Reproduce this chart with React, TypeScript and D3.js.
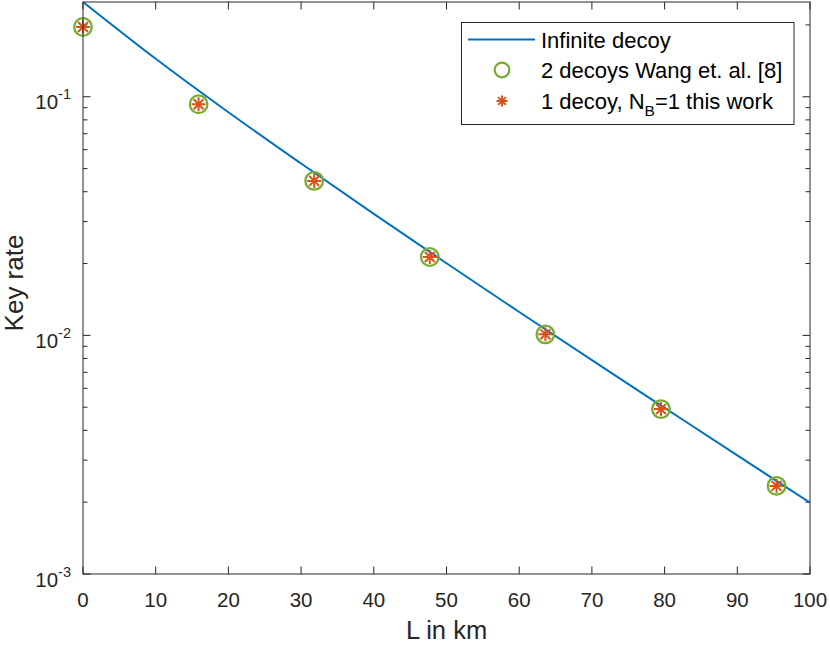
import * as d3 from 'd3';
import React, { useRef, useEffect } from 'react';

// infinite decoy curve, sampled every 10 km
const lineL = [0, 10, 20, 30, 40, 50, 60, 70, 80, 90, 100];
const lineRate = [0.2495, 0.1442, 0.0861, 0.0525, 0.0323, 0.02005, 0.01253, 0.00787, 0.00497, 0.00314, 0.00199];

// discrete points
const pointL = [0, 15.9, 31.8, 47.7, 63.6, 79.5, 95.4];
const twoDecoyRate = [0.196, 0.093, 0.0444, 0.0213, 0.0101, 0.00491, 0.00234];
const oneDecoyRate = [0.196, 0.093, 0.0444, 0.0213, 0.0101, 0.00491, 0.00234];

const xTicks = [0, 10, 20, 30, 40, 50, 60, 70, 80, 90, 100];
const yMajor = [1e-3, 1e-2, 1e-1];
const yMajorExp = ['-3', '-2', '-1'];

const legendLabels = ['Infinite decoy', '2 decoys Wang et. al. [8]', '1 decoy, N'];

const FONT = '"Liberation Sans", Arial, Helvetica, sans-serif';
const BLUE = '#0072BD';
const GREEN = '#77AC30';
const ORANGE = '#D95319';
const AXIS = '#262626';

const Chart = ({ width, height }: { width: number; height: number }) => {
  const svgRef = useRef<SVGSVGElement>(null);

  useEffect(() => {
    if (!svgRef.current) return;
    const svg = d3.select(svgRef.current);
    svg.selectAll('*').remove();

    const left = 83, right = 810, top = 2, bottom = 574;

    const x = d3.scaleLinear().domain([0, 100]).range([left, right]);
    const y = d3.scaleLog().domain([1e-3, 0.2495]).range([bottom, top]);

    svg.append('rect').attr('width', width).attr('height', height).attr('fill', '#fff');

    svg.append('defs').append('clipPath').attr('id', 'plotclip')
      .append('rect').attr('x', left).attr('y', top)
      .attr('width', right - left).attr('height', bottom - top);

    // ticks (inside, box on)
    const minor: number[] = [];
    [1e-3, 1e-2, 1e-1].forEach((d) => {
      for (let k = 2; k <= 9; k++) {
        const v = d * k;
        if (v <= 0.2495) minor.push(v);
      }
    });
    const tg = svg.append('g').attr('stroke', AXIS).attr('stroke-width', 1);
    xTicks.forEach((t) => {
      tg.append('line').attr('x1', x(t)).attr('x2', x(t)).attr('y1', bottom).attr('y2', bottom - 7.5);
      tg.append('line').attr('x1', x(t)).attr('x2', x(t)).attr('y1', top).attr('y2', top + 7.5);
    });
    yMajor.forEach((t) => {
      tg.append('line').attr('x1', left).attr('x2', left + 7.5).attr('y1', y(t)).attr('y2', y(t));
      tg.append('line').attr('x1', right).attr('x2', right - 7.5).attr('y1', y(t)).attr('y2', y(t));
    });
    minor.forEach((t) => {
      tg.append('line').attr('x1', left).attr('x2', left + 4.5).attr('y1', y(t)).attr('y2', y(t));
      tg.append('line').attr('x1', right).attr('x2', right - 4.5).attr('y1', y(t)).attr('y2', y(t));
    });

    // data
    const plot = svg.append('g').attr('clip-path', 'url(#plotclip)');
    const line = d3.line<number>().x((d, i) => x(lineL[i])).y((d) => y(d)).curve(d3.curveMonotoneX);
    plot.append('path').datum(lineRate).attr('d', line)
      .attr('fill', 'none').attr('stroke', BLUE).attr('stroke-width', 2);

    svg.append('g').selectAll('circle').data(twoDecoyRate).enter().append('circle')
      .attr('cx', (d, i) => x(pointL[i])).attr('cy', (d) => y(d)).attr('r', 8.8)
      .attr('fill', 'none').attr('stroke', GREEN).attr('stroke-width', 2.3);

    const star = (g: any, cx: number, cy: number, s: number, w: number) => {
      const d = s * 0.7071;
      const p = `M${cx - s},${cy}L${cx + s},${cy}M${cx},${cy - s}L${cx},${cy + s}` +
        `M${cx - d},${cy - d}L${cx + d},${cy + d}M${cx - d},${cy + d}L${cx + d},${cy - d}`;
      g.append('path').attr('d', p).attr('stroke', ORANGE).attr('stroke-width', w).attr('fill', 'none');
    };
    const sg = svg.append('g');
    oneDecoyRate.forEach((v, i) => star(sg, x(pointL[i]), y(v), 7, 2));

    // axes box
    svg.append('rect').attr('x', left).attr('y', top).attr('width', right - left).attr('height', bottom - top)
      .attr('fill', 'none').attr('stroke', AXIS).attr('stroke-width', 1);

    // tick labels
    svg.append('g').selectAll('text').data(xTicks).enter().append('text')
      .attr('x', (d) => x(d)).attr('y', 607).attr('text-anchor', 'middle')
      .attr('font-family', FONT).attr('font-size', 20.5).attr('fill', AXIS)
      .text((d) => String(d));

    yMajor.forEach((t, i) => {
      const tx = svg.append('text').attr('x', 71).attr('y', y(t) + 12.5).attr('text-anchor', 'end')
        .attr('font-family', FONT).attr('font-size', 20.5).attr('fill', AXIS);
      tx.append('tspan').text('10');
      tx.append('tspan').attr('dy', -10).attr('font-size', 14.5).text(yMajorExp[i]);
    });

    // axis labels
    svg.append('text').attr('x', (left + right) / 2).attr('y', 639).attr('text-anchor', 'middle')
      .attr('font-family', FONT).attr('font-size', 25.5).attr('fill', AXIS).text('L in km');
    svg.append('text').attr('transform', `translate(23,${(top + bottom) / 2 - 5}) rotate(-90)`)
      .attr('text-anchor', 'middle')
      .attr('font-family', FONT).attr('font-size', 26).attr('fill', AXIS).text('Key rate');

    // legend
    const lg = svg.append('g');
    lg.append('rect').attr('x', 461.5).attr('y', 22.5).attr('width', 332.5).attr('height', 102)
      .attr('fill', '#fff').attr('stroke', AXIS).attr('stroke-width', 1);
    const rowY = [39.5, 70, 101];
    lg.append('line').attr('x1', 468).attr('x2', 535).attr('y1', rowY[0]).attr('y2', rowY[0])
      .attr('stroke', BLUE).attr('stroke-width', 2);
    lg.append('circle').attr('cx', 502).attr('cy', rowY[1]).attr('r', 7.3)
      .attr('fill', 'none').attr('stroke', GREEN).attr('stroke-width', 2.2);
    star(lg, 502, rowY[2], 5.5, 2);
    legendLabels.forEach((lab, i) => {
      const tx = lg.append('text').attr('x', 541).attr('y', rowY[i] + 8)
        .attr('font-family', FONT).attr('font-size', 22).attr('fill', '#000');
      tx.append('tspan').text(lab);
      if (i === 2) {
        tx.append('tspan').attr('dy', 7).attr('font-size', 15.5).text('B');
        tx.append('tspan').attr('dy', -7).text('=1 this work');
      }
    });
  }, [width, height]);

  return <svg ref={svgRef} width={width} height={height} style={{ display: 'block' }} />;
};

export default function App() {
  return (
    <div style={{ position: 'absolute', left: 0, top: 0 }}>
      <Chart width={830} height={645} />
    </div>
  );
}
